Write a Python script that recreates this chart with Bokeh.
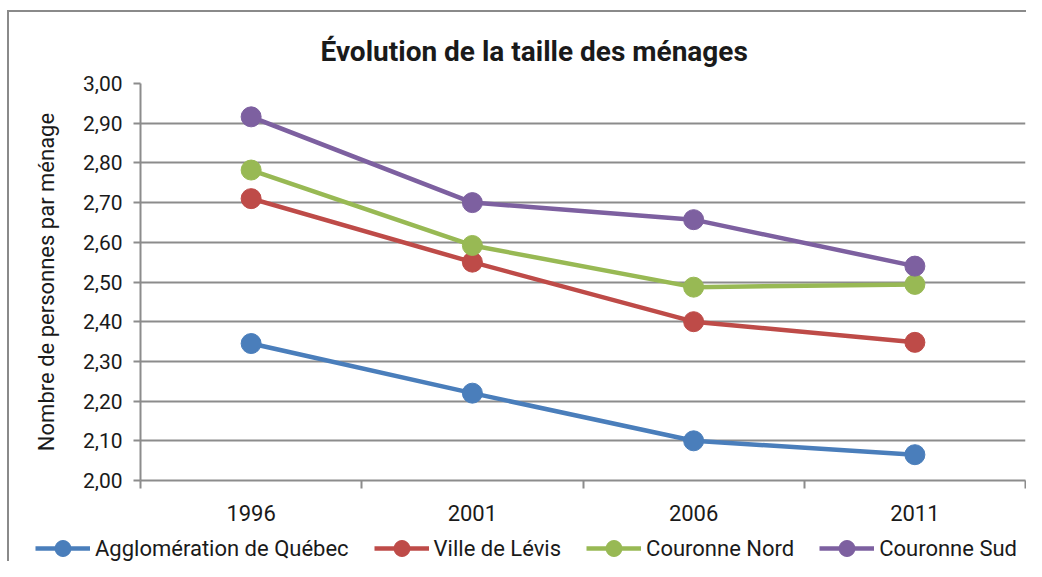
from bokeh.plotting import figure
from bokeh.models import FixedTicker, Legend, LegendItem, Title, Range1d
from bokeh.embed import file_html
from bokeh.resources import INLINE

years = ["1996", "2001", "2006", "2011"]
agglo = [2.345, 2.22, 2.10, 2.065]
levis = [2.71, 2.55, 2.40, 2.348]
nord = [2.782, 2.592, 2.487, 2.494]
sud = [2.916, 2.70, 2.657, 2.54]
series_names = ["Agglomération de Québec", "Ville de Lévis", "Couronne Nord", "Couronne Sud"]
colors = ["#4A7EBB", "#BE4B48", "#98B954", "#7D60A0"]
y_ticks = [2.0, 2.1, 2.2, 2.3, 2.4, 2.5, 2.6, 2.7, 2.8, 2.9, 3.0]

FONT = "Roboto"
GRID = "#8c8c8c"
TXT = "#1a1a1a"
FRAME_CSS = "#8a8a8a"

xs = [i + 0.5 for i in range(len(years))]

p = figure(width=1026, height=531, output_backend="svg", toolbar_location=None,
           x_range=Range1d(0, len(years)), y_range=Range1d(2.0, 3.0),
           min_border_left=140, min_border_right=1, min_border_top=83, min_border_bottom=51)
p.outline_line_color = None
p.background_fill_color = "white"
p.border_fill_alpha = 0
p.styles = {"background": (f"linear-gradient({FRAME_CSS},{FRAME_CSS}) 7px 10px / 2px 100% no-repeat, "
                           f"linear-gradient({FRAME_CSS},{FRAME_CSS}) 7px 10px / 100% 2px no-repeat, white")}

# title
p.title = Title(text="Évolution de la taille des ménages", align="left", offset=180,
                text_font=FONT, text_font_size="28px", text_font_style="bold",
                text_color=TXT, standoff=31)

# grid
p.xgrid.grid_line_color = None
p.ygrid.ticker = FixedTicker(ticks=y_ticks)
p.ygrid.grid_line_color = GRID
p.ygrid.grid_line_width = 2

# y axis
p.yaxis.ticker = FixedTicker(ticks=y_ticks)
p.yaxis.major_label_overrides = {t: f"{t:.2f}".replace(".", ",") for t in y_ticks}
p.yaxis.axis_line_color = GRID
p.yaxis.axis_line_width = 2
p.yaxis.major_tick_line_color = GRID
p.yaxis.major_tick_line_width = 2
p.yaxis.major_tick_out = 7
p.yaxis.major_tick_in = 0
p.yaxis.minor_tick_line_color = None
p.yaxis.major_label_text_font = FONT
p.yaxis.major_label_text_font_size = "21px"
p.yaxis.major_label_text_color = TXT
p.yaxis.major_label_standoff = 11
p.yaxis.axis_label = "Nombre de personnes par ménage"
p.yaxis.axis_label_text_font = FONT
p.yaxis.axis_label_text_font_size = "22px"
p.yaxis.axis_label_text_font_style = "normal"
p.yaxis.axis_label_text_color = TXT
p.yaxis.axis_label_standoff = 21

# x axis: labels at category centres, ticks at category boundaries
p.xaxis.ticker = FixedTicker(ticks=xs, minor_ticks=list(range(len(years) + 1)))
p.xaxis.major_label_overrides = {x: y for x, y in zip(xs, years)}
p.xaxis.axis_line_color = GRID
p.xaxis.axis_line_width = 2
p.xaxis.major_tick_line_color = None
p.xaxis.major_tick_out = 8
p.xaxis.major_tick_in = 0
p.xaxis.minor_tick_line_color = GRID
p.xaxis.minor_tick_line_width = 2
p.xaxis.minor_tick_out = 8
p.xaxis.minor_tick_in = 0
p.xaxis.major_label_text_font = FONT
p.xaxis.major_label_text_font_size = "22px"
p.xaxis.major_label_text_color = TXT
p.xaxis.major_label_standoff = 16

for vals, c in zip([agglo, levis, nord, sud], colors):
    p.line(xs, vals, line_color=c, line_width=4.5)
    p.scatter(xs, vals, size=20, fill_color=c, line_color=c)

# legend strip below the chart (separate root, so no frame alignment)
lg = figure(width=1026, height=30, output_backend="svg", toolbar_location=None,
            x_range=Range1d(0, 1), y_range=Range1d(0, 1),
            min_border_left=0, min_border_right=0, min_border_top=0, min_border_bottom=0)
lg.axis.visible = False
lg.grid.visible = False
lg.outline_line_color = None
lg.background_fill_alpha = 0
lg.border_fill_alpha = 0
lg.styles = {"background": f"linear-gradient({FRAME_CSS},{FRAME_CSS}) 7px 0 / 2px 100% no-repeat, white"}
items = []
for name, c in zip(series_names, colors):
    # renderers kept outside the visible range: only their legend glyphs show
    r1 = lg.line([-5, -4], [-5, -4], line_color=c, line_width=4.5)
    r2 = lg.scatter([-5], [-5], size=20, fill_color=c, line_color=c)
    items.append(LegendItem(label=name, renderers=[r1, r2]))
legend = Legend(items=items, orientation="horizontal", location=(35, -7),
                glyph_width=55, glyph_height=40, label_standoff=5, spacing=25,
                padding=0, margin=0, border_line_color=None, background_fill_alpha=0,
                label_text_font=FONT, label_text_font_size="22px", label_text_color=TXT)
lg.add_layout(legend, "center")

open("out.html", "w").write(file_html([p, lg], INLINE))
